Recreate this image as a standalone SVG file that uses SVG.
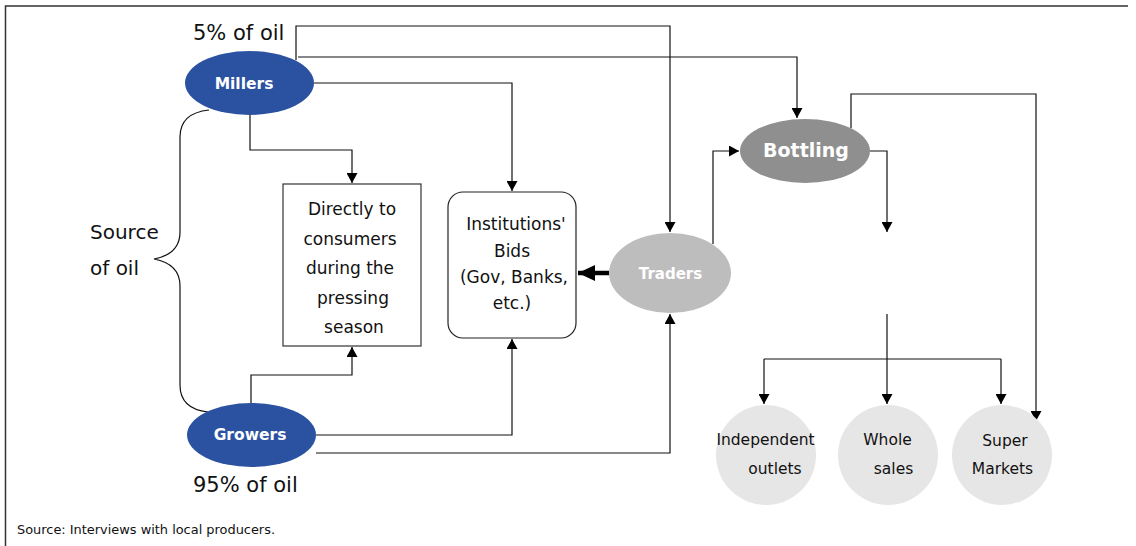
<svg xmlns="http://www.w3.org/2000/svg" width="1136" height="546" viewBox="0 0 1136 546">
<style>
.t{font-family:"DejaVu Sans",Verdana,sans-serif;fill:#111}
.lbl{font-size:21px}
.box{font-size:17px;text-anchor:middle}
.cir{font-size:15.5px;text-anchor:middle}
.node{font-family:"DejaVu Sans",Verdana,sans-serif;font-weight:bold;fill:#fff;text-anchor:middle}
.c{fill:none;stroke:#111;stroke-width:1.2}
</style>
<defs>
<marker id="ah" markerWidth="11" markerHeight="11" refX="10" refY="5.5" orient="auto" markerUnits="userSpaceOnUse"><path d="M0,0 L10,5.5 L0,11 z" fill="#000"/></marker>
<marker id="ahb" markerWidth="18" markerHeight="18" refX="17" refY="9" orient="auto" markerUnits="userSpaceOnUse"><path d="M0,1 L17,9 L0,17 z" fill="#000"/></marker>
</defs>
<rect width="1136" height="546" fill="#fff"/>
<path d="M5.5,546 V6 H1128" fill="none" stroke="#333" stroke-width="1.5"/>

<g id="connectors">
<path class="c" d="M250,115 V150 H352 V183" marker-end="url(#ah)"/>
<path class="c" d="M251,403 V375 H352 V347" marker-end="url(#ah)"/>
<path class="c" d="M314,83 H512 V191" marker-end="url(#ah)"/>
<path class="c" d="M316,435 H512 V339" marker-end="url(#ah)"/>
<path class="c" d="M316,453 H670 V314" marker-end="url(#ah)"/>
<path class="c" d="M296,60 V26 H670 V232" marker-end="url(#ah)"/>
<path class="c" d="M298,57 H797 V118" marker-end="url(#ah)"/>
<path class="c" d="M713,244 V151 H739" marker-end="url(#ah)"/>
<path class="c" d="M870,151 H887 V232" marker-end="url(#ah)"/>
<path class="c" d="M887,314 V359"/>
<path class="c" d="M764,359 H1001"/>
<path class="c" d="M764,359 V404" marker-end="url(#ah)"/>
<path class="c" d="M887,359 V404" marker-end="url(#ah)"/>
<path class="c" d="M1001,359 V404" marker-end="url(#ah)"/>
<path class="c" d="M851,128 V94 H1036 V421" marker-end="url(#ah)"/>
<path d="M609,273 H578" fill="none" stroke="#000" stroke-width="4.5" marker-end="url(#ahb)"/>
<path class="c" d="M209,110 C190,112 180,120 180,137 V232 C180,248 170,256 154,259 C170,262 180,270 180,286 V385 C180,402 190,410 208,412"/>
</g>

<g id="millers">
<ellipse cx="249.5" cy="83" rx="64.5" ry="32" fill="#2a52a0"/>
<text class="node" x="244" y="89" font-size="15.5">Millers</text>
</g>
<g id="growers">
<ellipse cx="251.5" cy="435" rx="64.5" ry="32" fill="#2a52a0"/>
<text class="node" x="250" y="440" font-size="15.5">Growers</text>
</g>
<g id="traders">
<ellipse cx="670" cy="273" rx="61" ry="40" fill="#bdbdbd"/>
<text class="node" x="670.5" y="279" font-size="15">Traders</text>
</g>
<g id="bottling">
<ellipse cx="805" cy="151" rx="65" ry="32" fill="#8f8f8f"/>
<text class="node" x="806" y="157" font-size="19">Bottling</text>
</g>
<g id="directly">
<rect x="283" y="184" width="138" height="162" fill="#fff" stroke="#333" stroke-width="1.2"/>
<text class="t box" x="352" y="215">Directly to</text>
<text class="t box" x="350" y="245">consumers</text>
<text class="t box" x="350" y="274">during the</text>
<text class="t box" x="353" y="304">pressing</text>
<text class="t box" x="354" y="333">season</text>
</g>
<g id="institutions">
<rect x="448" y="192" width="128" height="146" rx="15" fill="#fff" stroke="#222" stroke-width="1.2"/>
<text class="t box" x="516" y="230">Institutions'</text>
<text class="t box" x="512" y="257">Bids</text>
<text class="t box" x="514" y="283">(Gov, Banks,</text>
<text class="t box" x="512" y="309">etc.)</text>
</g>
<g id="independent">
<circle cx="766" cy="455" r="50" fill="#e6e6e6"/>
<text class="t cir" x="765.5" y="445">Independent</text>
<text class="t cir" x="775" y="474">outlets</text>
</g>
<g id="whole">
<circle cx="888" cy="455" r="50" fill="#e6e6e6"/>
<text class="t cir" x="887.5" y="445">Whole</text>
<text class="t cir" x="893.5" y="474">sales</text>
</g>
<g id="super">
<circle cx="1002" cy="455" r="50" fill="#e6e6e6"/>
<text class="t cir" x="1005" y="446">Super</text>
<text class="t cir" x="1002.5" y="474">Markets</text>
</g>

<g id="labels">
<text class="t lbl" x="193" y="40">5% of oil</text>
<text class="t lbl" x="193" y="492">95% of oil</text>
<text class="t" x="90" y="239" font-size="20">Source</text>
<text class="t" x="90" y="275" font-size="20">of oil</text>
<text class="t" x="17" y="534" font-size="13" textLength="258" lengthAdjust="spacingAndGlyphs">Source: Interviews with local producers.</text>
</g>
</svg>
